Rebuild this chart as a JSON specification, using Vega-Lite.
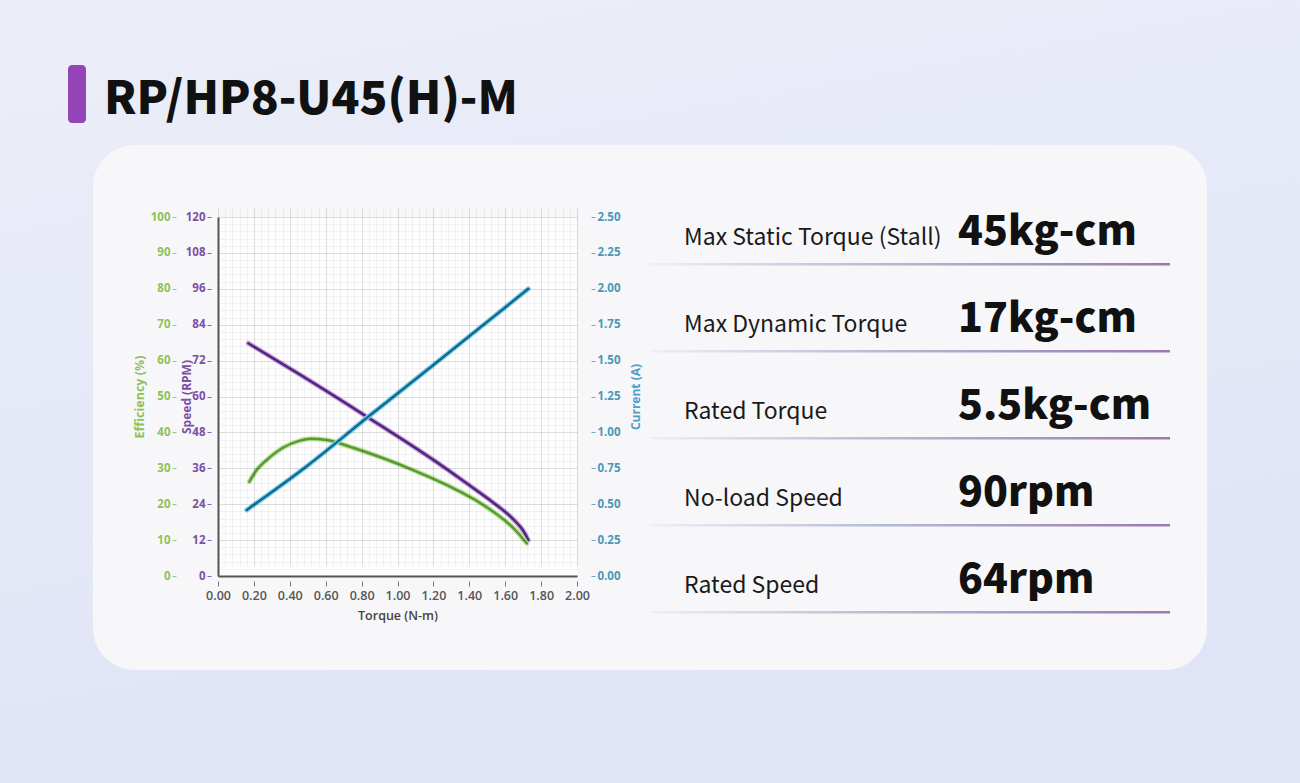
{
  "$schema": "https://vega.github.io/schema/vega-lite/v6.json",
  "width": 1300,
  "height": 783,
  "padding": 0,
  "autosize": "none",
  "background": "#e6e9f6",
  "config": {
    "view": {"stroke": null},
    "font": "Open Sans",
    "axis": {"labelFont": "Open Sans", "titleFont": "Open Sans", "labelOverlap": false, "labelBound": false, "labelFlush": false, "tickCount": 200}
  },
  "datasets": {
    "speed": [
      {"torque": 0.169, "speed": 77.8},
      {"torque": 0.457, "speed": 67.3},
      {"torque": 0.828, "speed": 53.3},
      {"torque": 1.2, "speed": 38.8},
      {"torque": 1.385, "speed": 31.0},
      {"torque": 1.571, "speed": 22.8},
      {"torque": 1.62, "speed": 20.4},
      {"torque": 1.664, "speed": 17.8},
      {"torque": 1.7, "speed": 15.2},
      {"torque": 1.729, "speed": 12.0}
    ],
    "efficiency": [
      {"torque": 0.175, "efficiency": 26.3},
      {"torque": 0.215, "efficiency": 29.5},
      {"torque": 0.271, "efficiency": 32.3},
      {"torque": 0.364, "efficiency": 35.8},
      {"torque": 0.457, "efficiency": 37.7},
      {"torque": 0.513, "efficiency": 38.2},
      {"torque": 0.605, "efficiency": 37.9},
      {"torque": 0.735, "efficiency": 36.0},
      {"torque": 0.921, "efficiency": 32.8},
      {"torque": 1.107, "efficiency": 29.1},
      {"torque": 1.293, "efficiency": 24.9},
      {"torque": 1.478, "efficiency": 19.8},
      {"torque": 1.664, "efficiency": 12.4},
      {"torque": 1.72, "efficiency": 9.1}
    ],
    "current": [
      {"torque": 0.16, "current": 0.46},
      {"torque": 0.5, "current": 0.77},
      {"torque": 0.828, "current": 1.1},
      {"torque": 1.2, "current": 1.47},
      {"torque": 1.5, "current": 1.77},
      {"torque": 1.729, "current": 2.0}
    ],
    "specs": [
      {"label": "Max Static Torque (Stall)", "value": "45kg-cm", "row": 1},
      {"label": "Max Dynamic Torque", "value": "17kg-cm", "row": 2},
      {"label": "Rated Torque", "value": "5.5kg-cm", "row": 3},
      {"label": "No-load Speed", "value": "90rpm", "row": 4},
      {"label": "Rated Speed", "value": "64rpm", "row": 5}
    ],
    "one": [{}]
  },
  "layer": [
    {
      "data": {"name": "one"},
      "mark": {"type": "rect", "fill": {"gradient": "linear", "x1": 0, "y1": 0, "x2": 0.3, "y2": 1, "stops": [{"offset": 0, "color": "#eceef8"}, {"offset": 1, "color": "#dfe4f6"}]}},
      "encoding": {"x": {"value": 0}, "x2": {"value": 1300}, "y": {"value": 0}, "y2": {"value": 783}}
    },
    {
      "data": {"name": "one"},
      "mark": {"type": "rect", "fill": "#f7f7fa", "cornerRadius": 42},
      "encoding": {"x": {"value": 93}, "x2": {"value": 1207}, "y": {"value": 145}, "y2": {"value": 670}}
    },
    {
      "data": {"name": "one"},
      "mark": {"type": "rect", "fill": "#9446b9", "cornerRadius": 4},
      "encoding": {"x": {"value": 68}, "x2": {"value": 86}, "y": {"value": 65}, "y2": {"value": 123}}
    },
    {
      "data": {"name": "one"},
      "mark": {"type": "text", "font": "Noto Sans CJK SC", "fontWeight": 900, "fontSize": 46, "align": "left", "baseline": "alphabetic", "fill": "#111111"},
      "encoding": {"x": {"value": 104}, "y": {"value": 114}, "text": {"value": "RP/HP8-U45(H)-M"}}
    },
    {
      "layer": [
        {
          "data": {"name": "one"},
          "mark": {"type": "rect", "fill": "#fdfdfe"},
          "encoding": {
            "x": {"datum": 0, "type": "quantitative", "scale": {"domain": [0, 2], "range": [218, 577], "nice": false, "zero": false}},
            "x2": {"datum": 2},
            "y": {"datum": 0, "type": "quantitative", "scale": {"domain": [0, 120], "range": [576, 217], "nice": false, "zero": false}},
            "y2": {"datum": 120}
          }
        },
        {
          "data": {"name": "speed"},
          "mark": {"type": "line", "interpolate": "monotone", "stroke": "#cda9e6", "strokeWidth": 5, "strokeCap": "round"},
          "encoding": {
            "x": {"field": "torque", "type": "quantitative", "scale": {"domain": [0, 2], "range": [218, 577], "nice": false, "zero": false}},
            "y": {"field": "speed", "type": "quantitative", "scale": {"domain": [0, 120], "range": [576, 217], "nice": false, "zero": false}}
          }
        },
        {
          "data": {"name": "speed"},
          "mark": {"type": "line", "interpolate": "monotone", "stroke": "#55287f", "strokeWidth": 2.6, "strokeCap": "round"},
          "encoding": {
            "x": {
              "field": "torque", "type": "quantitative",
              "scale": {"domain": [0, 2], "range": [218, 577], "nice": false, "zero": false},
              "axis": {
                "zindex": 1, "tickCount": 200,
                "orient": "bottom", "offset": -207,
                "values": [0,0.04,0.08,0.12,0.16,0.2,0.24,0.28,0.32,0.36,0.4,0.44,0.48,0.52,0.56,0.6,0.64,0.68,0.72,0.76,0.8,0.84,0.88,0.92,0.96,1,1.04,1.08,1.12,1.16,1.2,1.24,1.28,1.32,1.36,1.4,1.44,1.48,1.52,1.56,1.6,1.64,1.68,1.72,1.76,1.8,1.84,1.88,1.92,1.96,2],
                "labelExpr": "abs(datum.value*5-round(datum.value*5))<0.001 ? format(datum.value,'.2f') : ''",
                "grid": true, "gridColor": "#000000",
                "gridOpacity": {"condition": {"test": "abs(datum.value*5-round(datum.value*5))<0.001", "value": 0.12}, "value": 0.045},
                "tickOpacity": {"condition": {"test": "abs(datum.value*5-round(datum.value*5))<0.001", "value": 1}, "value": 0},
                "tickSize": 10, "tickDash": [0, 5, 5], "tickColor": "#777777", "tickWidth": 1,
                "domain": true, "domainColor": "#555555", "domainWidth": 2,
                "labelPadding": 3, "labelFontSize": 12.5, "labelFontWeight": 600, "labelColor": "#555555",
                "title": "Torque (N-m)", "titleFontSize": 12.5, "titleFontWeight": 600, "titleColor": "#444444",
                "titleY": 39, "titleBaseline": "middle"
              }
            },
            "y": {
              "field": "speed", "type": "quantitative",
              "scale": {"domain": [0, 120], "range": [576, 217], "nice": false, "zero": false},
              "axis": {
                "zindex": 1, "tickCount": 200,
                "orient": "left", "offset": -218,
                "values": [0,2.4,4.8,7.2,9.6,12,14.4,16.8,19.2,21.6,24,26.4,28.8,31.2,33.6,36,38.4,40.8,43.2,45.6,48,50.4,52.8,55.2,57.6,60,62.4,64.8,67.2,69.6,72,74.4,76.8,79.2,81.6,84,86.4,88.8,91.2,93.6,96,98.4,100.8,103.2,105.6,108,110.4,112.8,115.2,117.6,120],
                "labelExpr": "datum.value % 12 === 0 ? format(datum.value,'d') : ''",
                "grid": true, "gridColor": "#000000",
                "gridOpacity": {"condition": {"test": "datum.value % 12 === 0", "value": 0.12}, "value": 0.045},
                "tickOpacity": {"condition": {"test": "datum.value % 12 === 0", "value": 1}, "value": 0},
                "tickSize": 11, "tickDash": [0, 7, 4], "tickColor": "#8a62ad", "tickWidth": 1,
                "domain": true, "domainColor": "#555555", "domainWidth": 2,
                "labelPadding": 2, "labelFontSize": 11.5, "labelFontWeight": "bold", "labelColor": "#7d4fa5",
                "title": "Speed (RPM)", "titleFontSize": 12, "titleFontWeight": "bold", "titleColor": "#7d4fa5",
                "titleAngle": 270, "titleX": -32, "titleBaseline": "middle"
              }
            }
          }
        }
      ]
    },
    {
      "data": {"name": "efficiency"},
      "layer": [
        {
          "mark": {"type": "line", "interpolate": "monotone", "stroke": "#bfe69c", "strokeWidth": 5, "strokeCap": "round"},
          "encoding": {
            "x": {"field": "torque", "type": "quantitative", "scale": {"domain": [0, 2], "range": [218, 577], "nice": false, "zero": false}, "axis": null},
            "y": {"field": "efficiency", "type": "quantitative", "scale": {"domain": [0, 100], "range": [576, 217], "nice": false, "zero": false}}
          }
        },
        {
          "mark": {"type": "line", "interpolate": "monotone", "stroke": "#5b9b37", "strokeWidth": 2.5, "strokeCap": "round"},
          "encoding": {
            "x": {"field": "torque", "type": "quantitative", "scale": {"domain": [0, 2], "range": [218, 577], "nice": false, "zero": false}, "axis": null},
            "y": {
              "field": "efficiency", "type": "quantitative",
              "scale": {"domain": [0, 100], "range": [576, 217], "nice": false, "zero": false},
              "axis": {
                "zindex": 1, "tickCount": 200,
                "orient": "left", "offset": -176,
                "values": [0,10,20,30,40,50,60,70,80,90,100],
                "format": "d",
                "grid": false, "domain": false,
                "tickSize": 4, "tickColor": "#9ccc70", "tickWidth": 1,
                "labelPadding": 2, "labelFontSize": 11.5, "labelFontWeight": "bold", "labelColor": "#8dc25a",
                "title": "Efficiency (%)", "titleFontSize": 12.5, "titleFontWeight": "bold", "titleColor": "#8dc25a",
                "titleAngle": 270, "titleX": -37, "titleBaseline": "middle"
              }
            }
          }
        }
      ]
    },
    {
      "data": {"name": "current"},
      "layer": [
        {
          "mark": {"type": "line", "interpolate": "monotone", "stroke": "#7fd9f0", "strokeWidth": 5, "strokeCap": "round"},
          "encoding": {
            "x": {"field": "torque", "type": "quantitative", "scale": {"domain": [0, 2], "range": [218, 577], "nice": false, "zero": false}, "axis": null},
            "y": {"field": "current", "type": "quantitative", "scale": {"domain": [0, 2.5], "range": [576, 217], "nice": false, "zero": false}}
          }
        },
        {
          "mark": {"type": "line", "interpolate": "monotone", "stroke": "#186a92", "strokeWidth": 2.5, "strokeCap": "round"},
          "encoding": {
            "x": {"field": "torque", "type": "quantitative", "scale": {"domain": [0, 2], "range": [218, 577], "nice": false, "zero": false}, "axis": null},
            "y": {
              "field": "current", "type": "quantitative",
              "scale": {"domain": [0, 2.5], "range": [576, 217], "nice": false, "zero": false},
              "axis": {
                "zindex": 1, "tickCount": 200,
                "orient": "right", "offset": -723,
                "values": [0,0.25,0.5,0.75,1,1.25,1.5,1.75,2,2.25,2.5],
                "format": ".2f",
                "grid": false, "domain": false,
                "tickSize": 18, "tickDash": [0, 14, 4], "tickColor": "#6aaac6", "tickWidth": 1,
                "labelPadding": 2, "labelFontSize": 11.5, "labelFontWeight": "bold", "labelColor": "#4a97b8",
                "title": "Current (A)", "titleFontSize": 12, "titleFontWeight": "bold", "titleColor": "#4aa0c8",
                "titleAngle": 270, "titleX": 58, "titleBaseline": "middle"
              }
            }
          }
        }
      ]
    },
    {
      "data": {"name": "specs"},
      "layer": [
        {
          "mark": {"type": "rect", "yOffset": 18, "y2Offset": 20.5, "fill": {"gradient": "linear", "x1": 0, "y1": 0, "x2": 1, "y2": 0, "stops": [{"offset": 0, "color": "#eef0f6"}, {"offset": 0.45, "color": "#b3bad3"}, {"offset": 1, "color": "#9a78b2"}]}},
          "encoding": {
            "x": {"value": 650}, "x2": {"value": 1170},
            "y": {"field": "row", "type": "quantitative", "scale": {"domain": [1, 5], "range": [245, 593], "nice": false, "zero": false}, "axis": null},
            "y2": {"field": "row"}
          }
        },
        {
          "mark": {"type": "text", "font": "Noto Sans CJK SC", "fontSize": 23, "align": "left", "baseline": "alphabetic", "fill": "#1a1a1a"},
          "encoding": {
            "x": {"value": 684},
            "y": {"field": "row", "type": "quantitative", "scale": {"domain": [1, 5], "range": [245, 593], "nice": false, "zero": false}, "axis": null},
            "text": {"field": "label"}
          }
        },
        {
          "mark": {"type": "text", "font": "Noto Sans CJK SC", "fontSize": 41, "fontWeight": 900, "align": "left", "baseline": "alphabetic", "fill": "#111111"},
          "encoding": {
            "x": {"value": 958},
            "y": {"field": "row", "type": "quantitative", "scale": {"domain": [1, 5], "range": [245, 593], "nice": false, "zero": false}, "axis": null},
            "text": {"field": "value"}
          }
        }
      ]
    }
  ],
  "resolve": {"scale": {"x": "independent", "y": "independent"}}
}
